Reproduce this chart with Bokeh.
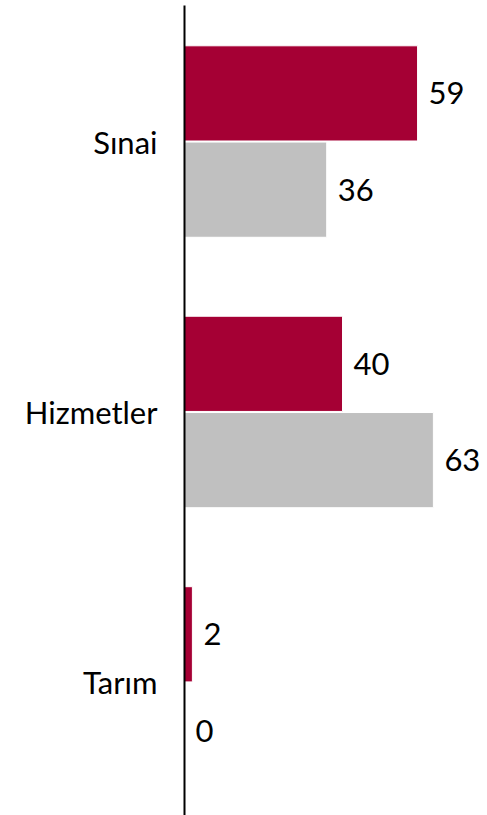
from bokeh.plotting import figure
from bokeh.models import Range1d, FixedTicker, ColumnDataSource
from bokeh.embed import file_html
from bokeh.resources import INLINE
from bokeh.core.properties import value

categories = ["Sınai", "Hizmetler", "Tarım"]
series_red = [59, 40, 2]
series_gray = [36, 63, 0]

RED = "#A50034"
GRAY = "#C0C0C0"
FONT = "Lato"
FSIZE = "31px"

n = len(categories)
ypos = [n - 1 - i + 0.5 for i in range(n)]
off = 0.178
bh = 0.352

src_red = ColumnDataSource(dict(y=[v + off for v in ypos], right=series_red,
                                 lab=[str(v) for v in series_red]))
src_gray = ColumnDataSource(dict(y=[v - off for v in ypos], right=series_gray,
                                  lab=[str(v) for v in series_gray]))

p = figure(width=487, height=815, output_backend="svg", toolbar_location=None,
           x_range=Range1d(0, 76.7), y_range=Range1d(0.008, 3.003),
           x_axis_location=None, min_border_left=184, min_border_right=0,
           min_border_top=5, min_border_bottom=0)
p.outline_line_color = None
p.grid.visible = False

p.hbar(y="y", left=0, right="right", height=bh, source=src_red,
       fill_color=RED, line_color="white", line_width=1)
p.hbar(y="y", left=0, right="right", height=bh, source=src_gray,
       fill_color=GRAY, line_color="white", line_width=1)

for s in (src_red, src_gray):
    p.text(x="right", y="y", text="lab", source=s, x_offset=11,
           text_baseline="middle", text_align="left",
           text_font=value(FONT), text_font_size=FSIZE, text_color="black")

ax = p.yaxis[0]
ax.ticker = FixedTicker(ticks=ypos)
ax.major_label_overrides = {y: c for y, c in zip(ypos, categories)}
ax.major_tick_line_color = None
ax.minor_tick_line_color = None
ax.major_tick_out = 0
ax.major_tick_in = 0
ax.axis_line_color = "black"
ax.axis_line_width = 2
ax.major_label_standoff = 27
ax.major_label_text_font = FONT
ax.major_label_text_font_size = FSIZE
ax.major_label_text_color = "black"

open("out.html", "w").write(file_html(p, INLINE))
